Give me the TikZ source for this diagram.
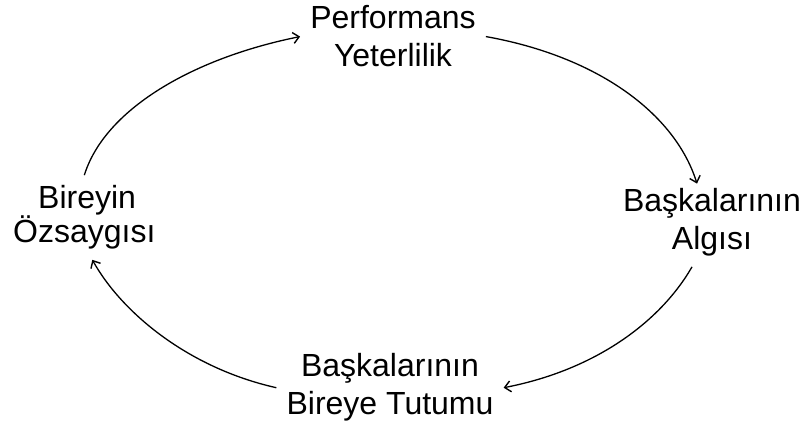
\documentclass[tikz,border=0pt]{standalone}
\usepackage{fontspec}
\setmainfont{Liberation Sans}
\usetikzlibrary{arrows.meta}
\begin{document}
\begin{tikzpicture}[x=1pt,y=1pt,
  lbl/.style={font=\fontsize{32}{38}\selectfont, align=center, inner sep=10pt, anchor=base},
  arr/.style={draw, line width=1.3pt, -{Straight Barb[length=6pt,width=11pt,line width=1.4pt]}}]
\useasboundingbox (0,0) rectangle (803,425);
\node[lbl] (perf) at (393,358) {Performans\\Yeterlilik};
\node[lbl] (algi) at (712,175) {Başkalarının\\Algısı};
\node[lbl] (tutum) at (390,10) {Başkalarının\\Bireye Tutumu};
\node[lbl, align=left, anchor=base west, font=\fontsize{32}{31}\selectfont] (oz) at (3,182) {\hspace*{25pt}Bireyin\\Özsaygısı};
\draw[arr] (oz.north) .. controls +(20,65) and +(-109,-22) .. (perf.west);
\draw[arr] (perf.east) .. controls +(112,-20) and +(-22,70) .. ([xshift=-15pt,yshift=-5pt]algi.north);
\draw[arr] ([xshift=-20pt]algi.south) .. controls +(-31,-54) and +(93,18) .. (tutum.east);
\draw[arr] (tutum.west) .. controls +(-89,20) and +(29,-52) .. ([xshift=8pt]oz.south);
\end{tikzpicture}
\end{document}
